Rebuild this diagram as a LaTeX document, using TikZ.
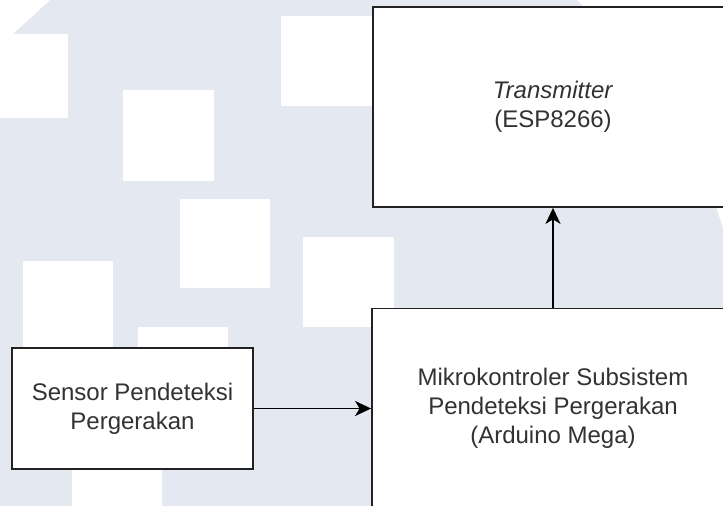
\documentclass[tikz,border=0pt]{standalone}
\usepackage{fontspec}
\setmainfont{Liberation Sans}
\usetikzlibrary{arrows.meta}
\definecolor{wm}{RGB}{228,232,240}
\definecolor{ink}{RGB}{50,50,50}
\definecolor{edge}{RGB}{34,34,34}
\begin{document}
\begin{tikzpicture}[x=1pt,y=-1pt,
  box/.style={draw=edge, line width=1.8pt, fill=white, align=center,
    font=\fontsize{24}{29}\selectfont, text=ink, inner sep=0pt},
  conn/.style={line width=1.8pt, draw=black,
    -{Stealth[length=16pt,width=15pt,inset=4.5pt]}},
  wsq/.style={fill=white}]
\useasboundingbox (0,0) rectangle (723,506);
\clip (0,0) rectangle (723,506);
% watermark background
\fill[wm] (0,0) rectangle (723,506);
\fill[wsq] (0,0) -- (50,0) -- (13,34) -- (0,34) -- cycle;
\fill[wsq] (0,34) rectangle (68,118);
\fill[wsq] (123,90) rectangle (214,181);
\fill[wsq] (281,16) rectangle (372,106);
\fill[wsq] (180,199) rectangle (270,288);
\fill[wsq] (303,237) rectangle (394,327);
\fill[wsq] (23,261) rectangle (113,351);
\fill[wsq] (138,327) rectangle (228,417);
\fill[wsq] (72,440) rectangle (162,530);
\fill[wsq] (577,0) -- (723,0) -- (723,146) -- cycle;
\fill[wsq] (716,207) -- (723,207) -- (723,228) -- cycle;
% blocks
\node[box, minimum width=360pt, minimum height=200pt] (tx) at (553,107)
  {\textit{Transmitter}\\(ESP8266)};
\node[box, minimum width=362pt, minimum height=200pt] (mcu) at (553,408.5)
  {Mikrokontroler Subsistem\\Pendeteksi Pergerakan\\(Arduino Mega)};
\node[box, minimum width=241pt, minimum height=121pt] (sen) at (132.5,408.5)
  {Sensor Pendeteksi\\Pergerakan};
% connectors
\draw[conn] (sen) -- (mcu);
\draw[conn] (mcu) -- (tx);
\end{tikzpicture}
\end{document}
